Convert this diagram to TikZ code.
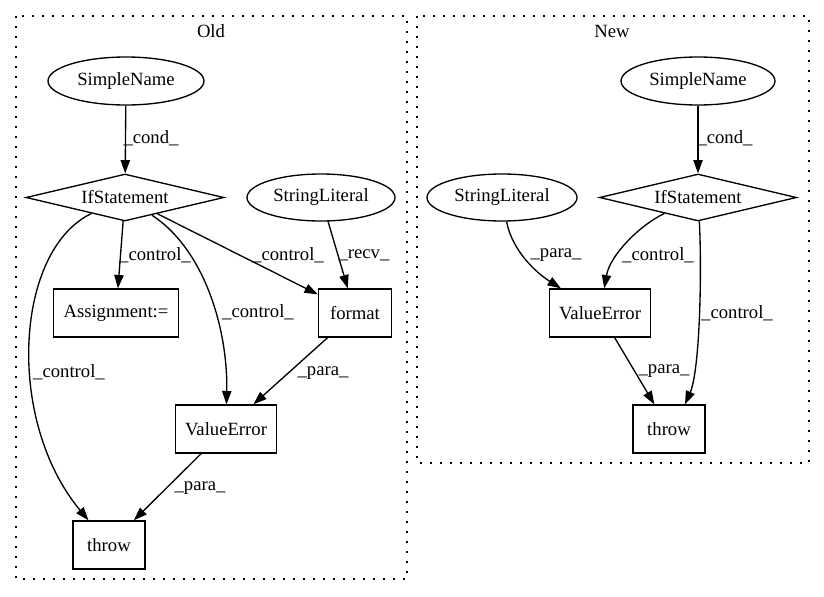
\documentclass[tikz,border=0pt]{standalone}
\usepackage{fontspec}
\setmainfont{Liberation Serif}
\usetikzlibrary{shapes.geometric,arrows.meta}
\begin{document}
\begin{tikzpicture}[x=0.75pt,y=-0.75pt,line width=1pt,
  every node/.style={font=\fontsize{14pt}{16pt}\selectfont},
  ell/.style={draw,ellipse,inner sep=0pt,minimum height=36pt},
  dia/.style={draw,diamond,aspect=4.2,inner sep=0pt,minimum height=35.25pt},
  box/.style={draw,rectangle,inner sep=0pt,minimum height=36pt},
  conn/.style={-{Triangle[length=10pt,width=7pt]}},
  lbl/.style={inner sep=0pt},
  cluster/.style={draw,dash pattern=on 1.4pt off 6.1pt}]
\fill[white] (0,0) rectangle (824,596);
\useasboundingbox (0,0) rectangle (824,596);

% clusters
\draw[cluster] (16,16) rectangle (407,579);
\draw[cluster] (417,16) rectangle (809,463);
\node[lbl] (oldlbl) at (211,31) {Old};
\node[lbl] (newlbl) at (612,31) {New};

% Old nodes
\node[ell,minimum width=117pt] (sn1) at (126,81) {SimpleName};
\node[dia,minimum width=148.5pt] (if1) at (125,197.5) {IfStatement};
\node[ell,minimum width=111pt,minimum height=35.25pt] (sl1) at (321,197.5) {StringLiteral};
\node[box,minimum width=93.75pt] (as1) at (116,313) {Assignment:=};
\node[box,minimum width=54.75pt] (fm1) at (355,313) {format};
\node[box,minimum width=75.75pt] (ve1) at (226,429) {ValueError};
\node[box,minimum width=54pt] (th1) at (109,545) {throw};

% Old edges
\draw[conn] (sn1) -- (if1);
\draw[conn] (if1) -- (as1);
\draw[conn] (if1) -- (fm1);
\draw[conn] (sl1) -- (fm1);
\draw[conn] (if1) .. controls (205,250) and (228,330) .. (ve1);
\draw[conn] (if1) .. controls (15,250) and (5,420) .. (th1);
\draw[conn] (fm1) -- (ve1);
\draw[conn] (ve1) -- (th1);

\node[lbl] (l1) at (151,138) {\_cond\_};
\node[lbl] (l2) at (155,255) {\_control\_};
\node[lbl] (l3) at (288,255) {\_control\_};
\node[lbl] (l4) at (364,255) {\_recv\_};
\node[lbl] (l5) at (258,312) {\_control\_};
\node[lbl] (l6) at (69,372) {\_control\_};
\node[lbl] (l7) at (323,373) {\_para\_};
\node[lbl] (l8) at (200,488) {\_para\_};

% New nodes
\node[ell,minimum width=115.5pt] (sn2) at (698,81) {SimpleName};
\node[dia,minimum width=147.75pt] (if2) at (698,197.5) {IfStatement};
\node[ell,minimum width=112.5pt,minimum height=35.25pt] (sl2) at (502,197.5) {StringLiteral};
\node[box,minimum width=75.75pt] (ve2) at (600,313) {ValueError};
\node[box,minimum width=54pt] (th2) at (669,429) {throw};

% New edges
\draw[conn] (sn2) -- (if2);
\draw[conn] (sl2) .. controls (512,250) and (535,272) .. (ve2);
\draw[conn] (if2) .. controls (640,225) and (610,255) .. (ve2);
\draw[conn] (if2) .. controls (702,270) and (700,370) .. ([xshift=12pt]th2.north);
\draw[conn] (ve2) -- (th2);

\node[lbl] (m1) at (725,138) {\_cond\_};
\node[lbl] (m2) at (556,255) {\_para\_};
\node[lbl] (m3) at (658,255) {\_control\_};
\node[lbl] (m4) at (737,313) {\_control\_};
\node[lbl] (m5) at (664,371) {\_para\_};
\end{tikzpicture}
\end{document}
